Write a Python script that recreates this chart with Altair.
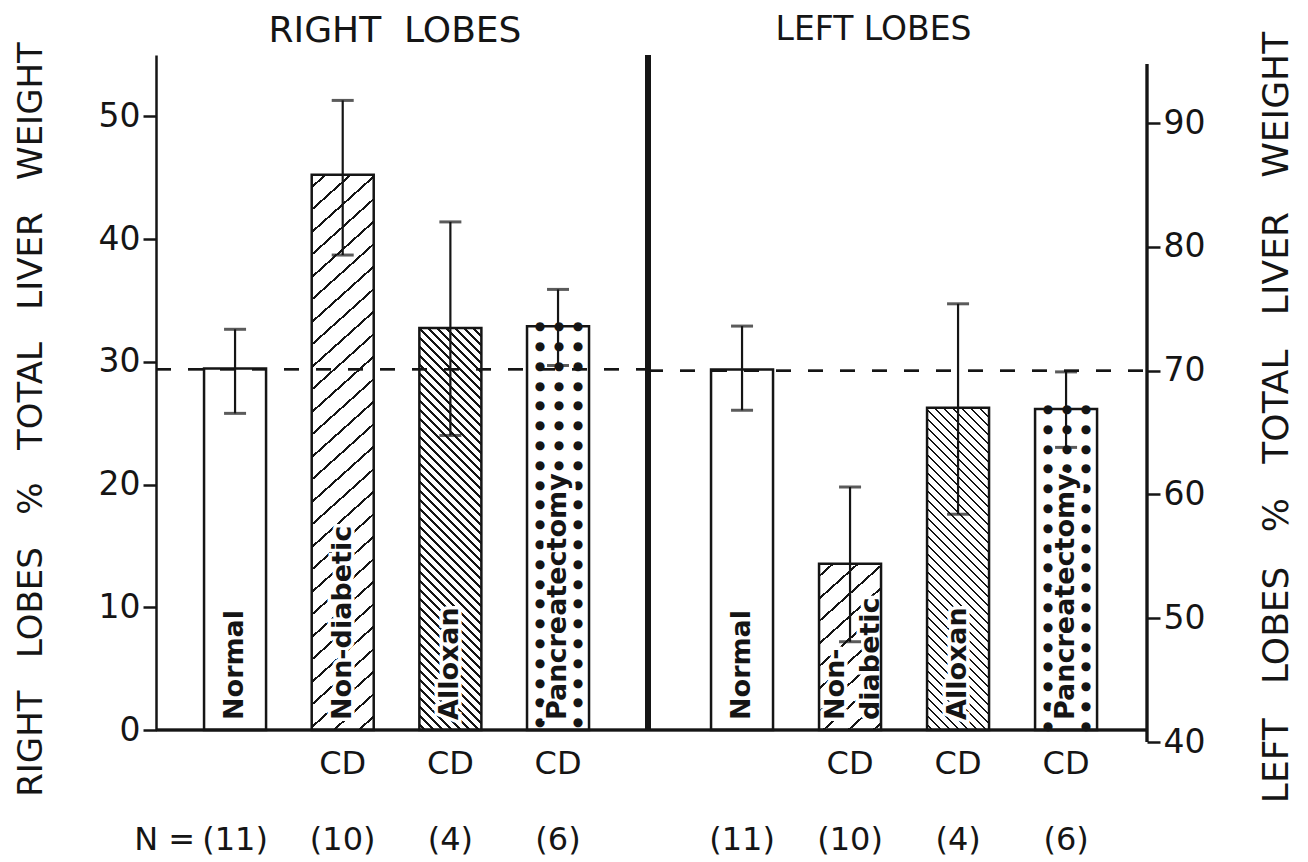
import altair as alt
import pandas as pd

# ---------------- data ----------------
groups = ["Normal", "Non-diabetic", "Alloxan", "Pancreatectomy"]
cd_labels = ["", "CD", "CD", "CD"]
n_labels = ["(11)", "(10)", "(4)", "(6)"]
right_bar_text = ["Normal", "Non-diabetic", "Alloxan", "Pancreatectomy"]
left_bar_text = ["Normal", "Non-\ndiabetic", "Alloxan", "Pancreatectomy"]

# right lobes, % of total liver weight (left axis)
right_mean = [29.45, 45.25, 32.75, 32.9]
right_lo = [25.8, 38.7, 24.0, 29.7]
right_hi = [32.65, 51.3, 41.4, 35.9]

# left lobes, % of total liver weight (right axis)
left_mean = [70.1, 54.4, 67.0, 66.9]
left_lo = [66.8, 48.1, 58.4, 63.8]
left_hi = [73.6, 60.6, 75.4, 69.9]

right_normal_line = 29.4
left_normal_line = 70.0

right_ticks = [0, 10, 20, 30, 40, 50]
left_ticks = [40, 50, 60, 70, 80, 90]

panel_titles = ["RIGHT\u00a0\u00a0LOBES", "LEFT\u00a0LOBES"]

# ---------------- style / layout ----------------
FONT = "DejaVu Sans"
INK = "#151515"
WL, WR = 492, 499
HL, HR = 675, 687
DOM_L = [0, 55]
DOM_R = [40, 95.5]
BASE_L = 0.0
PU_R = HR / (DOM_R[1] - DOM_R[0])
BASE_R = DOM_R[0] + (HR - HL) / PU_R      # right-panel bar baseline, level with left one
AXIS_TOP_R = DOM_R[0] + (HR - 9) / PU_R   # top of the right axis line
BAR_W = 62
CD_Y = 709
N_Y = 785
TITLE_Y = -41
LABEL_FS = 27


def hatch(W, H, spacing, thick, slope, direction):
    L = slope * W + H
    s = L / (slope ** 2 * W ** 2 + H ** 2)
    if direction == "/":
        x1, y1, x2, y2 = 0, 0, s * slope * W, s * H
    else:
        x1, y1, x2, y2 = 0, 1, s * slope * W, 1 - s * H
    stops = [{"offset": 0, "color": "white"}]
    c = spacing * 0.5
    while c < L:
        a = c / L
        b = min((c + thick) / L, 1.0)
        stops += [
            {"offset": a, "color": "white"},
            {"offset": a, "color": INK},
            {"offset": b, "color": INK},
            {"offset": b, "color": "white"},
        ]
        c += spacing
    stops.append({"offset": 1, "color": "white"})
    return {"gradient": "linear", "x1": x1, "y1": y1, "x2": x2, "y2": y2, "stops": stops}


def panel(means, los, his, texts, base, dom, W, H, xscale, axis, ref_line, right_side,
          title, title_dx, title_fs):
    pu = H / (dom[1] - dom[0])
    df = pd.DataFrame({
        "group": groups, "mean": means, "lo": los, "hi": his,
        "base": [base] * 4, "text": texts, "cd": cd_labels, "n": n_labels,
    })
    ys = alt.Scale(domain=dom, nice=False, zero=False)
    X = alt.X("group:N", sort=groups, scale=xscale, axis=None)

    def Y(f):
        return alt.Y(f, type="quantitative", scale=ys, axis=axis)

    def YD(v):
        return alt.YDatum(v, scale=ys, axis=axis)

    ch = alt.Chart(df)
    layers = []
    layers.append(ch.mark_bar(fill="white", strokeWidth=0).encode(x=X, y=Y("mean"), y2="base"))

    # hatching
    i_nd = groups.index("Non-diabetic")
    i_al = groups.index("Alloxan")
    h_nd = (means[i_nd] - base) * pu
    h_al = (means[i_al] - base) * pu
    layers.append(ch.transform_filter(alt.datum.group == "Non-diabetic").mark_bar(
        fill=hatch(BAR_W, h_nd, 22.5, 2.7, 0.9, "/"), strokeWidth=0).encode(x=X, y=Y("mean"), y2="base"))
    layers.append(ch.transform_filter(alt.datum.group == "Alloxan").mark_bar(
        fill=hatch(BAR_W, h_al, 9.0, 2.4, 1.0, "\\"), strokeWidth=0).encode(x=X, y=Y("mean"), y2="base"))

    # dots
    i_pa = groups.index("Pancreatectomy")
    h_pa = (means[i_pa] - base) * pu
    text_len = 14 * 0.62 * LABEL_FS + 16
    cols = (("a", -18), ("b", 1), ("c", 20))
    rows = []
    h = h_pa
    while h >= 0:
        for col, off in cols:
            if col == "b" and h < text_len:
                continue
            rows.append({"group": "Pancreatectomy", "y": base + h / pu, "col": col})
        h -= 19.8
    dots = pd.DataFrame(rows)
    for col, off in cols:
        layers.append(alt.Chart(dots).transform_filter(alt.datum.col == col).mark_text(
            text="\u25CF", fontSize=12, font=FONT, color=INK, dx=off, baseline="middle", align="center"
        ).encode(x=X, y=Y("y")))

    # bar labels (single line / two lines)
    tprops = dict(angle=270, align="left", baseline="middle", dx=10, font=FONT, fontSize=LABEL_FS,
                  fontWeight="bold", lineBreak="\n", lineHeight=35)
    one = "indexof(datum.text, '\\n') < 0"
    two = "indexof(datum.text, '\\n') >= 0"
    for expr, dy in ((one, 0), (two, -14)):
        sub = ch.transform_filter(expr)
        layers.append(sub.mark_text(stroke="white", strokeWidth=7, color="white", dy=dy, **tprops).encode(
            x=X, y=YD(base), text="text:N"))
        layers.append(sub.mark_text(color=INK, dy=dy, **tprops).encode(x=X, y=YD(base), text="text:N"))

    # bar outlines
    layers.append(ch.mark_bar(fill="white", fillOpacity=0, stroke=INK, strokeWidth=2.5).encode(
        x=X, y=Y("mean"), y2="base"))

    # dashed normal level
    layers.append(ch.mark_rule(strokeDash=[15, 17], strokeWidth=2, color=INK).encode(
        y=YD(ref_line), x=alt.value(0), x2=alt.value(W)))

    # error bars
    layers.append(ch.mark_rule(strokeWidth=2.2, color=INK).encode(x=X, y=Y("lo"), y2="hi"))
    layers.append(ch.mark_tick(size=22, thickness=3, color=INK).encode(x=X, y=Y("lo")))
    layers.append(ch.mark_tick(size=22, thickness=3, color=INK).encode(x=X, y=Y("hi")))

    # baseline
    layers.append(ch.mark_rule(strokeWidth=2.5, color=INK).encode(
        y=YD(base), x=alt.value(0), x2=alt.value(W)))

    if right_side:
        layers.append(ch.mark_rule(strokeWidth=2.5, color=INK).encode(
            x=alt.value(W), y=YD(dom[0]), y2=alt.Y2Datum(AXIS_TOP_R)))
    else:
        layers.append(ch.mark_rule(strokeWidth=6, color=INK).encode(
            x=alt.value(W), y=YD(dom[0]), y2=alt.Y2Datum(dom[1])))

    # labels below
    layers.append(ch.mark_text(font=FONT, fontSize=32, color=INK, baseline="middle").encode(
        x=X, y=alt.value(CD_Y), text="cd:N"))
    layers.append(ch.mark_text(font=FONT, fontSize=32, color=INK, baseline="middle").encode(
        x=X, y=alt.value(N_Y), text="n:N"))
    if not right_side:
        layers.append(ch.transform_filter(alt.datum.group == "Normal").mark_text(
            font=FONT, fontSize=32, color=INK, baseline="middle", align="right", dx=-40, text="N ="
        ).encode(x=X, y=alt.value(N_Y)))

    # panel title
    layers.append(alt.Chart(pd.DataFrame({"t": [title]})).mark_text(
        font=FONT, fontSize=title_fs, color=INK, baseline="top", align="center"
    ).encode(x=alt.value(W / 2 + title_dx), y=alt.value(TITLE_Y), text="t:N"))

    return alt.layer(*layers).properties(width=W, height=H)


SP = "\u00a0\u00a0\u00a0"
axis_l = alt.Axis(
    values=right_ticks, grid=False, domainWidth=2.5, domainColor=INK, tickSize=13, tickWidth=2.5,
    tickColor=INK, labelFont=FONT, labelFontSize=33, labelColor=INK, labelPadding=3,
    title=f"RIGHT{SP}LOBES{SP}%{SP}TOTAL{SP}LIVER{SP}WEIGHT", titleFont=FONT, titleFontSize=34,
    titleFontWeight="normal", titleColor=INK, titleAngle=270, titleAlign="center",
    titleBaseline="bottom", titleX=-108, titleY=364,
)
axis_r = alt.Axis(
    orient="right", values=left_ticks, grid=False, domain=False, tickSize=13, tickWidth=2.5,
    tickColor=INK, labelFont=FONT, labelFontSize=33, labelColor=INK, labelPadding=3,
    title=f"LEFT{SP}LOBES{SP}%{SP}TOTAL{SP}LIVER{SP}WEIGHT", titleFont=FONT, titleFontSize=36,
    titleFontWeight="normal", titleColor=INK, titleAngle=270, titleAlign="center",
    titleBaseline="top", titleX=112, titleY=362,
)

xs_l = alt.Scale(paddingInner=0.424, paddingOuter=0.497, align=0.449)
xs_r = alt.Scale(paddingInner=0.426, paddingOuter=0.523, align=0.558)

left_panel = panel(right_mean, right_lo, right_hi, right_bar_text, BASE_L, DOM_L, WL, HL, xs_l,
                   axis_l, right_normal_line, False, panel_titles[0], -7, 36)
right_panel = panel(left_mean, left_lo, left_hi, left_bar_text, BASE_R, DOM_R, WR, HR, xs_r,
                    axis_r, left_normal_line, True, panel_titles[1], -24, 33)

chart = alt.hconcat(left_panel, right_panel, spacing=0, bounds="flush").properties(
    padding={"left": 5, "top": 5, "right": 0, "bottom": 4},
    background="white",
).configure_view(stroke=None)

chart.save("out.html", embed_options={"renderer": "svg", "actions": False})
